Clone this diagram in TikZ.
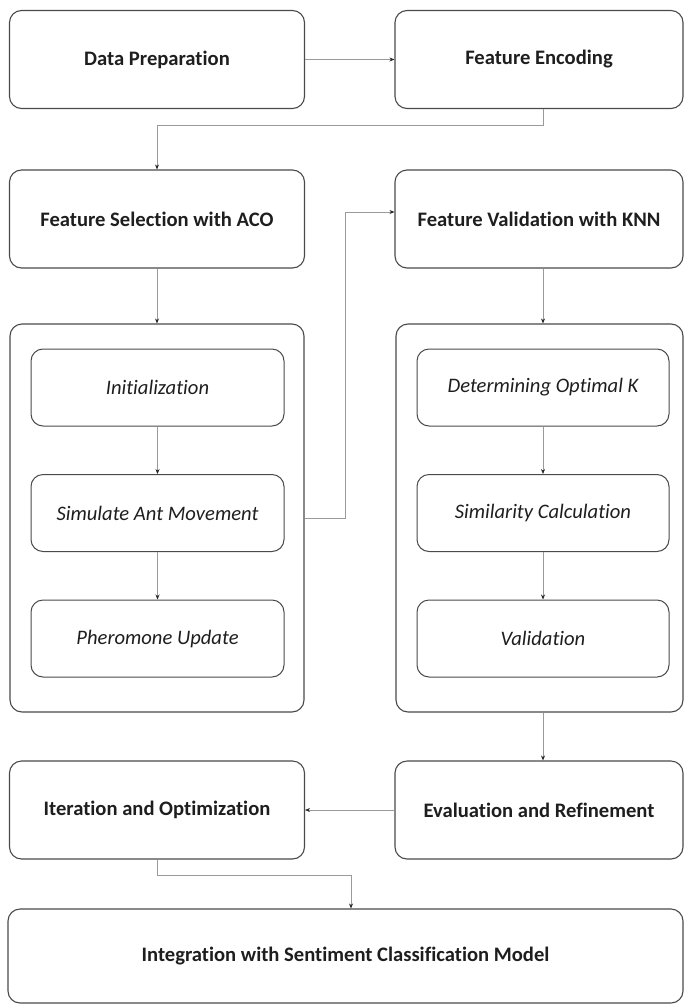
\documentclass[tikz,border=0pt]{standalone}
\usepackage{fontspec}
\setmainfont{Carlito}[Ligatures=NoCommon]
\usetikzlibrary{arrows.meta}
\definecolor{boxline}{HTML}{4A4A4A}
\definecolor{connline}{HTML}{9A9A9A}
\definecolor{txt}{HTML}{1E1E1E}
\begin{document}
\begin{tikzpicture}[x=1pt, y=-1pt,
		mainbox/.style={draw=boxline, line width=1.1pt, rounded corners=12pt, text=txt, font=\fontsize{20.6}{24}\selectfont\bfseries, minimum height=98pt, inner sep=0pt},
		leftcol/.style={mainbox, minimum width=295pt},
		rightcol/.style={mainbox, minimum width=288pt},
		groupbox/.style={draw=boxline, line width=1.1pt, rounded corners=12pt, minimum height=388pt, inner sep=0pt},
		stepbox/.style={draw=boxline, line width=1pt, rounded corners=12pt, text=txt, font=\fontsize{20.6}{24}\selectfont\itshape, minimum width=253pt, minimum height=77pt, inner sep=0pt},
		conn/.style={draw=connline, line width=.7pt, -{Stealth[length=5pt, width=4pt, color=black!85]}}]
		\useasboundingbox (0,0) rectangle (684,1004);
		% top rows
		\node[leftcol] (prep) at (157,59.5) {Data Preparation};
		\node[rightcol] (enc) at (539,59.5) {Feature Encoding};
		\node[leftcol] (sel) at (157,219) {Feature Selection with ACO};
		\node[rightcol] (val) at (539,219) {Feature Validation with KNN};
		% ACO and KNN groups
		\node[groupbox, minimum width=294pt] (acobox) at (157,518) {};
		\node[groupbox, minimum width=287pt] (knnbox) at (539.5,518) {};
		\node[stepbox] (init) at (157.5,387.5) {Initialization};
		\node[stepbox] (ant) at (157.5,513) {Simulate Ant Movement};
		\node[stepbox] (pher) at (157.5,638.5) {Pheromone Update};
		\node[stepbox, minimum width=252pt] (optk) at (543,387.5) {Determining Optimal K};
		\node[stepbox, minimum width=252pt] (sim) at (543,513) {Similarity Calculation};
		\node[stepbox, minimum width=252pt] (valid) at (543,638.5) {Validation};
		% bottom rows
		\node[leftcol] (iter) at (157,810) {Iteration and Optimization};
		\node[rightcol] (eval) at (539,810) {Evaluation and Refinement};
		\node[mainbox, minimum width=675pt, minimum height=94pt] (integ) at (345.5,956) {Integration with Sentiment Classification Model};
		% bends
		\coordinate (j1) at (157,125);
		\coordinate (j2) at (345,212);
		\coordinate (j3) at (351,875);
		% connectors
		\draw[conn] (prep.east) -- (enc.west);
		\draw[conn] (optk |- enc.south) |- (j1) -- (sel.north);
		\draw[conn] (sel.south) -- (acobox.north);
		\draw[conn] (init.south) -- (ant.north);
		\draw[conn] (ant.south) -- (pher.north);
		\draw[conn] (acobox.east) -| (j2) -- (j2 -| val.west);
		\draw[conn] (optk |- val.south) -- (optk |- knnbox.north);
		\draw[conn] (optk.south) -- (sim.north);
		\draw[conn] (sim.south) -- (valid.north);
		\draw[conn] (optk |- knnbox.south) -- (optk |- eval.north);
		\draw[conn] (eval.west) -- (iter.east);
		\draw[conn] (iter.south) |- (j3) -- (j3 |- integ.north);
	\end{tikzpicture}
\end{document}
